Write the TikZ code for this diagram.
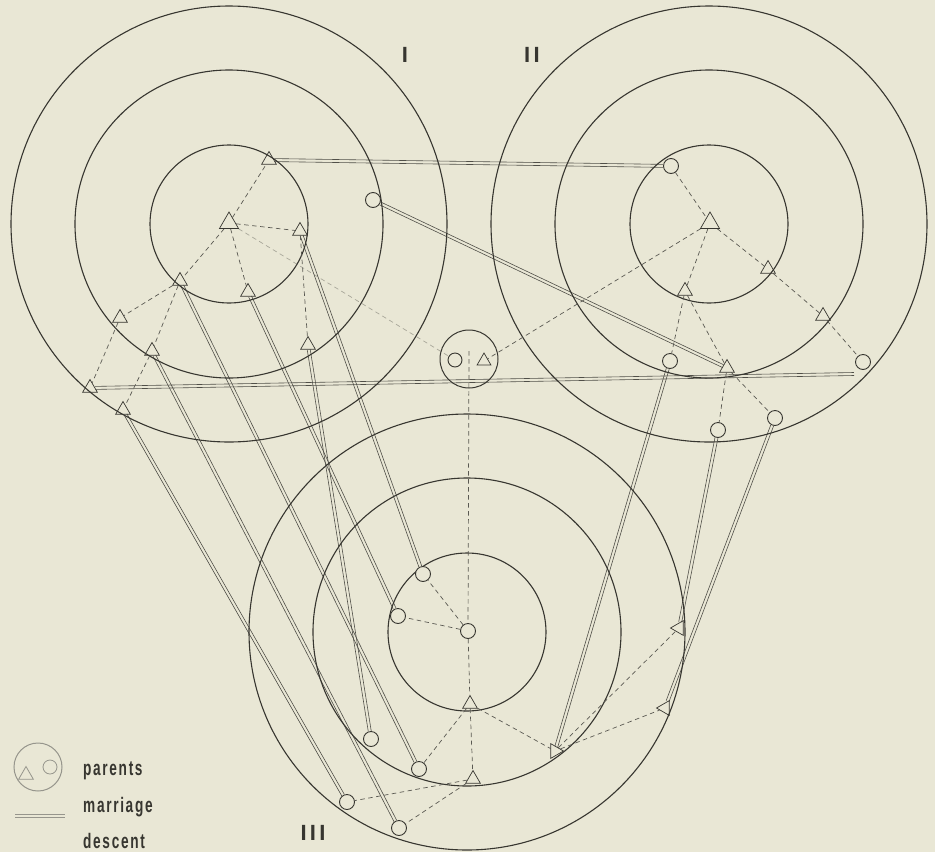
\documentclass[tikz,border=0pt]{standalone}
\usepackage{fontspec}
\usetikzlibrary{shapes.geometric,calc}
\newfontfamily\legfont[FakeStretch=0.65,LetterSpace=8]{Liberation Sans}
\newfontfamily\numfont[LetterSpace=15]{Liberation Sans}
\definecolor{bg}{RGB}{233,231,213}
\definecolor{ink}{RGB}{55,54,48}
\definecolor{marc}{RGB}{80,79,72}
\definecolor{dashc}{RGB}{90,89,82}
\definecolor{leg}{RGB}{150,149,140}
\pgfdeclarelayer{back}
\pgfsetlayers{back,main}
\newcommand\marline[3][]{%
  \path (#2) -- coordinate[pos=0] (mA) coordinate[pos=1] (mB) (#3);
  \draw[marr,#1] ($(mA)!1.5pt!90:(mB)$) -- ($(mB)!1.5pt!-90:(mA)$);
  \draw[marr,#1] ($(mA)!1.5pt!-90:(mB)$) -- ($(mB)!1.5pt!90:(mA)$);
}
\begin{document}
\begin{tikzpicture}[x=1pt,y=-1pt,
  ring/.style={draw=ink, line width=1.1pt},
  fem/.style={circle, draw=ink, line width=0.9pt, fill=bg, minimum size=15pt, inner sep=0pt},
  mal/.style={regular polygon, regular polygon sides=3, draw=ink, line width=0.7pt, minimum size=17pt, inner sep=0pt},
  malbig/.style={mal, minimum size=22pt},
  desc/.style={draw=dashc, line width=0.7pt, dash pattern=on 4.5pt off 3.5pt},
  faintdesc/.style={desc, draw opacity=0.45},
  marr/.style={draw=marc, line width=0.6pt},
  lbl/.style={inner sep=0pt, text=ink, font={\numfont\bfseries\fontsize{22pt}{24pt}\selectfont}},
  legtxt/.style={inner sep=0pt, anchor=base west, text=ink, font={\legfont\bfseries\fontsize{21pt}{24pt}\selectfont}}
]
\begin{pgfonlayer}{back}
\fill[bg] (0,0) rectangle (935,852);
\end{pgfonlayer}
\useasboundingbox (0,0) rectangle (935,852);

% ring centres
\coordinate (c1) at (229,224);
\coordinate (c2) at (709,224);
\coordinate (c3) at (467,632);

% ---- group I
\node[malbig] (t1c) at (229,223) {};
\node[mal] (t1a) at (269,160) {};
\node[mal] (t1r) at (300,231) {};
\node[mal] (t1b) at (248,292) {};
\node[mal] (t1l) at (180,281) {};
\node[mal] (t1ll) at (120,318) {};
\node[mal] (t1m) at (152,351) {};
\node[mal] (t1x) at (90,388) {};
\node[mal] (t1o) at (123,410) {};
\node[mal] (t1s) at (308,345) {};
\node[fem] (w1x) at (373,200) {};

% ---- group II
\node[fem] (w2a) at (671,166) {};
\node[malbig] (t2c) at (710,223) {};
\node[mal] (t2r) at (768,269) {};
\node[mal] (t2rr) at (823,316) {};
\node[fem] (w2r) at (863,362) {};
\node[mal] (t2b) at (685,291) {};
\node[fem] (w2b) at (670,361) {};
\node[mal] (t2bb) at (727,368) {};
\node[fem] (w2x) at (775,418) {};
\node[fem] (w2y) at (718,430) {};

% ---- parents
\node[circle, draw=ink, line width=1pt, minimum size=58pt, inner sep=0pt] (par) at (469,359) {};
\node[fem, minimum size=14pt] (pw) at (455,360) {};
\node[mal, minimum size=16pt] (pt) at (484,361) {};
\coordinate (pj) at (469,351);

% ---- group III
\node[fem] (w3c) at (468,631) {};
\node[fem] (w3a) at (423,574) {};
\node[fem] (w3b) at (398,616) {};
\node[mal] (t3b) at (470,704) {};
\node[mal] (t3bb) at (473,779) {};
\node[fem] (w3d) at (371,739) {};
\node[fem] (w3e) at (419,769) {};
\node[fem] (w3f) at (347,802) {};
\node[fem] (w3g) at (399,828) {};
\node[mal, shape border rotate=-90] (t3r1) at (555,751) {};
\node[mal, shape border rotate=90] (t3r2) at (679,628) {};
\node[mal, shape border rotate=90] (t3r3) at (665,708) {};

\coordinate (mr) at (854,374);

% ---- labels
\node[lbl] (l1) at (405,55) {I};
\node[lbl] (l2) at (532,55) {II};
\node[lbl] (l3) at (313,833) {III};

% ---- legend
\node[circle, draw=leg, line width=1pt, minimum size=48pt, inner sep=0pt] (lgp) at (38,767) {};
\node[regular polygon, regular polygon sides=3, draw=leg, line width=0.8pt, minimum size=17pt, inner sep=0pt] (lgt) at (26,775) {};
\node[circle, draw=leg, line width=0.8pt, minimum size=14pt, inner sep=0pt] (lgw) at (50,767) {};
\node[legtxt] (tp) at (83,775) {parents};
\node[legtxt] (tm) at (83,812) {marriage};
\node[legtxt] (td) at (83,848) {descent};
\coordinate (lm1) at (15,816);
\coordinate (lm2) at (65,816);

\begin{pgfonlayer}{back}
% marriages (double lines)
\marline{t1a}{w2a}
\marline{w1x}{t2bb}
\marline{t1x}{mr}
\marline{t1r}{w3a}
\marline{t1b}{w3b}
\marline{t1l}{w3e}
\marline{t1m}{w3g}
\marline{t1o}{w3f}
\marline{t1s}{w3d}
\marline{w2b}{t3r1}
\marline{w2y}{t3r2}
\marline{w2x}{t3r3}
\marline[draw=leg, line width=1.2pt]{lm1}{lm2}

% rings
\foreach \c in {c1,c2,c3}{
  \foreach \r in {79,154,218}{
    \draw[ring] (\c) circle[radius=\r pt];
  }
}

% descent (dashed)
\draw[desc] (t1c) -- (t1a);
\draw[desc] (t1c) -- (t1r);
\draw[desc] (t1c) -- (t1b);
\draw[desc] (t1c) -- (t1l);
\draw[faintdesc] (t1c) -- (pw);
\draw[desc] (t1l) -- (t1ll);
\draw[desc] (t1l) -- (t1m);
\draw[desc] (t1ll) -- (t1x);
\draw[desc] (t1m) -- (t1o);
\draw[desc] (t1r) -- (t1s);

\draw[desc] (w2a) -- (t2c);
\draw[desc] (t2c) -- (t2r);
\draw[desc] (t2r) -- (t2rr);
\draw[desc] (t2rr) -- (w2r);
\draw[desc] (t2c) -- (t2b);
\draw[desc] (t2c) -- (pt);
\draw[desc] (t2b) -- (w2b);
\draw[desc] (t2b) -- (t2bb);
\draw[desc] (t2bb) -- (w2y);
\draw[desc] (t2bb) -- (w2x);

\draw[desc] (pj) -- (w3c);
\draw[desc] (w3c) -- (w3a);
\draw[desc] (w3c) -- (w3b);
\draw[desc] (w3c) -- (t3b);
\draw[desc] (t3b) -- (t3bb);
\draw[desc] (t3b) -- (w3e);
\draw[desc] (t3b) -- (t3r1);
\draw[desc] (t3bb) -- (w3f);
\draw[desc] (t3bb) -- (w3g);
\draw[desc] (t3r1) -- (t3r2);
\draw[desc] (t3r1) -- (t3r3);
\end{pgfonlayer}
\end{tikzpicture}
\end{document}
